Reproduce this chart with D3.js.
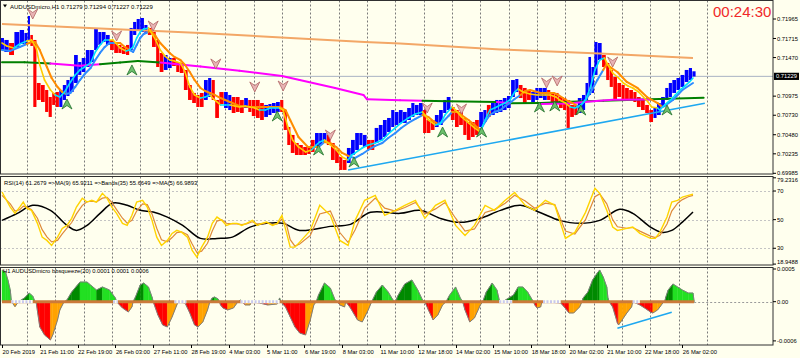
<!DOCTYPE html>
<html><head><meta charset="utf-8">
<script src="https://cdn.jsdelivr.net/npm/d3@7"></script>
<style>
body{margin:0;background:#ffffee}
svg{display:block}
text{font-family:"Liberation Sans",Arial,sans-serif}
</style></head>
<body><svg id="c" width="800" height="358"></svg>
<script>
// ---------------- DATA (prices in points, 1 point = 0.00001) ----------------
const timeLabels = ["20 Feb 2019","21 Feb 11:00","22 Feb 19:00","26 Feb 03:00","27 Feb 11:00","28 Feb 19:00","4 Mar 03:00","5 Mar 11:00","6 Mar 19:00","8 Mar 03:00","11 Mar 10:00","12 Mar 18:00","14 Mar 02:00","15 Mar 10:00","18 Mar 18:00","20 Mar 02:00","21 Mar 10:00","22 Mar 18:00","26 Mar 02:00"];
const priceTicks = [71965,71715,71470,70975,70730,70480,70235,69985];
const lastPrice = 71229;
const rsiTicks = [79.2316,70,50,30,18.9488];
const oscTicks = [0.0005,0,-0.0006];

const barIdx = [0,4,8,13,17,21,23,25,28,31, 35,38,41,44,47,50,53,56,59,63, 66,69,73,76,80,83,86,90,93,97,
 100,103,107,109,113,115,119,122,125,129, 132,135,139,142,146,149,152,156,159,163, 166,169,173,176,179,182,186,190,193,196,
 200,203,207,210,213,217,220,224,227,230, 234,237,240,243,246,250,253,257,260,263, 267,270,273,277,280,284,287,290,294,297,
 301,304,307,311,314,317,321,324,328,331, 334,338,341,345,348,351,355,358,361,365, 368,372,375,378,382,385,389,392,395,399,
 402,406,409,412,416,419,422,426,429,433, 436,439,443,446,450,453,456,460,463,466, 470,473,477,479,483,486,489,493,495,498,
 500,503,506,510,513,516,519,523,526,529, 533,536,539,543,546,550,553,556,560,563, 566,569,573,576,580,583,586];
const barHigh = [71721,71696,71657,71798,71824,71786,72004,71760,71696,71144, 71118,71054,70964,71016,71028,71054,71118,71182,71221,71503, 71413,71465,71567,71567,71837,71798,71798,71760,71696,71657,
 71632,71606,71632,71850,71927,71965,71978,71888,71850,71798, 71696,71529,71503,71465,71465,71413,71401,71311,71118,71016, 70990,71016,71182,71208,71182,70926,71028,71028,70990,70964,
 70964,70926,70951,70926,70926,70926,70887,70862,70874,70887, 70900,70926,70797,70579,70477,70374,70348,70323,70323,70413, 70502,70502,70502,70477,70374,70284,70194,70156,70310,70413,
 70502,70502,70477,70413,70413,70567,70605,70669,70695,70797, 70772,70797,70772,70823,70887,70862,70887,70797,70669,70669, 70733,70797,70926,70964,70836,70797,70772,70695,70643,70643,
 70669,70772,70797,70862,70887,70926,70926,70951,70977,71182, 71195,71118,71080,71054,71028,71080,71080,71080,71054,71028, 71016,70964,70951,70926,70862,70862,70951,70990,71144,71478,
 71349,71670,71657,71503,71401,71311,71221,71144,71118,71080, 71054,71028,70964,70926,70862,70797,70836,70887,70964,71080, 71144,71182,71208,71247,71311,71336,71294];
const barLow = [71567,71542,71503,71606,71644,71632,71696,71619,70836,70926, 70900,70772,70708,70862,70836,70836,70926,70977,71028,71144, 71247,71285,71349,71413,71567,71632,71670,71632,71567,71529,
 71529,71516,71503,71567,71760,71824,71798,71786,71760,71606, 71349,71285,71311,71336,71362,71285,71272,71054,70926,70887, 70836,70836,70926,70964,70926,70695,70874,70823,70797,70759,
 70772,70759,70823,70772,70720,70695,70669,70708,70733,70759, 70772,70772,70541,70348,70246,70220,70220,70220,70233,70259, 70323,70348,70374,70348,70156,70117,70028,70028,70117,70220,
 70284,70348,70323,70284,70284,70374,70413,70451,70515,70579, 70605,70631,70631,70669,70708,70733,70733,70502,70502,70541, 70579,70605,70759,70797,70669,70579,70605,70477,70413,70451,
 70477,70579,70643,70708,70733,70759,70772,70797,70823,70964, 71028,70951,70887,70926,70900,70926,70951,70926,70926,70887, 70887,70823,70797,70567,70708,70733,70759,70797,70926,70990,
 71016,71247,71439,71349,71182,71093,70926,70964,70926,70926, 70926,70900,70836,70797,70759,70643,70695,70733,70836,70926, 70964,71016,71054,71093,71157,71182,71227];
const barDir = ("BBRBBBBRRR"+"RRRRRBBBBB"+"BBBBBBBBRR"+"RRRBBBBBRR"+"RRBBRRRRRR"+"RRBBRRRBBR"+"RRBRRRRBBB"+"BRRRRRRRRR"+"BBBRRRRRBB"+"BBBRRBBBBB"+
 "BBBBBBBRRR"+"BBBBRRRRRR"+"RBBRBBBBBB"+"BRRRBBBBRR"+"RRRRRRBBBB"+"BBBRRRRRRR"+"RRRRRRBBBB"+"BBBBBBB").split("");

const fastIdx = [0,4,10,15,21,25,29,32,36,41, 45,49,53,58,62,66,70,75,79,83, 87,91,94,100,105,108,111,114,117,120, 124,125,130,134,138,142,146,151,155,159,
 163,168,172,176,180,185,189,193,197,201, 206,210,214,218,223,227,231,235,238,242, 246,251,257,262,266,269,273,278,283,288, 293,296,299,305,310,316,322,327,333,338,
 344,350,356,358,361,367,371,375,381,384, 389,395,400,405,409,413,417,422,426,430, 434,437,441,447,453,460,464,469,472,477, 481,485,489,494,498,502,506,510,512,517,
 522,526,530,534,539,543,547,550,555,557, 561,566,570,574,578,582,585];
const fastVal = [71657,71619,71593,71644,71683,71696,71593,71375,71182,71054, 70990,70964,71028,71157,71247,71311,71349,71401,71542,71632, 71696,71696,71696,71593,71555,71567,71606,71721,71798,71837,
 71850,71824,71696,71567,71490,71439,71426,71401,71285,71093, 70990,70951,70964,70990,70926,70862,70862,70862,70849,70836, 70849,70836,70823,70797,70797,70823,70823,70823,70797,70579,
 70413,70323,70259,70284,70348,70387,70413,70348,70284,70194, 70156,70220,70246,70310,70348,70374,70413,70490,70567,70631, 70695,70746,70772,70733,70669,70605,70618,70733,70836,70797,
 70708,70631,70567,70515,70669,70797,70823,70862,70887,70926, 71028,71067,71028,71003,70990,70990,70990,70964,70926,70887, 70836,70823,70849,70926,71080,71311,71439,71465,71401,71272,
 71208,71144,71105,71080,71028,70964,70900,70836,70823,70797, 70862,70926,70990,71054,71105,71157,71208];
const fastDir = ("udduuddddd"+"duuuuuuuuu"+"uuddduuuuu"+"uddddddddd"+"dduudduudd"+"dddduuuudd"+"dddduuuddd"+"duuuuuuuuu"+"uuuddduuud"+"dddduuuuuu"+
 "uudddddddd"+"duuuuuuudd"+"dddddddddu"+"uuuuuuu").split("");

const slowIdx = [0,7,15,21,25,28,32,38,42,47, 51,54,58,62,66,70,75,79,83,87, 91,96,100,104,108,111,114,117,120,124, 125,130,134,138,142,146,151,155,159,163,
 168,172,176,180,185,189,193,197,201,210, 218,227,235,240,244,251,259,268,273,278, 283,288,295,299,305,310,316,322,327,333, 338,344,350,356,361,365,369,373,378,381,
 386,389,395,400,405,409,413,417,422,426, 430,434,439,443,447,456,467,471,475,479, 483,487,489,494,498,504,509,512,516,521, 529,538,546,555,559,561,568,576,585];
const slowVal = [71567,71555,71606,71644,71670,71670,71567,71349,71208,71093, 71028,71003,71016,71093,71182,71259,71336,71439,71529,71606, 71657,71657,71657,71606,71567,71542,71632,71721,71773,71798,
 71824,71747,71657,71593,71529,71478,71439,71375,71285,71182, 71080,71041,71016,70990,70951,70926,70900,70874,70849,70836, 70836,70836,70836,70797,70669,70451,70323,70323,70387,70374,
 70323,70246,70194,70182,70233,70284,70336,70374,70438,70502, 70567,70631,70682,70733,70708,70656,70618,70643,70720,70772, 70772,70733,70669,70605,70541,70643,70733,70772,70797,70849,
 70887,70939,70990,71041,71054,71016,71016,70990,70951,70913, 70887,70849,70836,70926,71016,71182,71311,71388,71336,71285, 71157,71080,70964,70887,70836,70849,70926,71054,71144];
const slowDir = ("uuuudddddd"+"dduuuuuuuu"+"uuddduuuuu"+"dddddddddd"+"dddddddddd"+"ddddddddud"+"ddduuuuuuu"+"uuuuddduuu"+"ddddduuuuu"+"uuuddddddd"+
 "dduuuuuddd"+"ddddduuuu").split("");

const sandyIdx = [0,83,168,252,307,337,422,506,585];
const sandyVal = [71901,71843,71786,71715,71670,71651,71574,71523,71465];

const ma200Idx = [0,19,41,66,83,100,115,134,168,201,237,252,282,306,309,337,356,378,419,430,456,481,509,549,594];
const ma200Val = [71410,71410,71394,71366,71384,71407,71426,71407,71356,71302,71234,71182,71080,70990,70935,70923,70917,70909,70900,70883,70887,70904,70917,70935,70955];
const ma200Col = "gggmmgggmmmmmmmmmggmggggg".split("");
const magIdx = [456,478,498,517,549];
const magVal = [70874,70881,70906,70928,70932];

const trendIdx = [293,595];
const trendVal = [70028,70883];

const sellIdx = [26,97,128,181,214,238,278,360,389,461,470,517];
const sellVal = [72029,71747,71875,71388,71093,71105,70477,70823,70810,71144,71170,71413];
const buyIdx = [55,110,233,268,298,373,406,455,468,490,563];
const buyVal = [70874,71311,70720,70284,70130,70515,70515,70836,70849,70797,70797];

// RSI panel
const rsiIdx = [0,7,11,15,18,21,25,30,34,38, 42,47,51,55,59,63,68,72,76,80, 85,89,93,97,102,106,110,114,119,123, 127,131,135,140,144,148,152,157,161,165,
 169,174,178,182,186,190,195,199,203,207, 212,216,220,224,229,233,237,241,244,248, 252,261,269,278,286,293,299,307,316,324, 333,341,350,358,367,375,384,392,400,409,
 417,426,434,443,451,460,468,477,485,494, 502,506,512,517,521,529,534,540,549,553, 557,563,567,572,576,581,585];
const rsiMa5 = [69.3,58.8,54.4,58.8,62.3,57.9,56.5,47.4,37.8,35.5, 32.0,37.8,43.9,46.0,50.9,58.8,64.9,62.3,63.5,62.3, 68.4,64.9,58.8,54.4,47.4,46.0,53.0,62.3,63.5,58.8, 49.5,37.8,32.0,35.5,40.4,42.5,41.3,37.8,28.5,23.8,
 30.8,37.8,47.4,51.8,49.5,46.0,47.4,47.4,46.0,47.4, 49.5,46.0,47.4,48.3,46.0,47.4,53.0,40.4,30.8,30.8, 34.3,42.5,60.0,53.0,35.5,32.0,49.5,63.5,67.0,53.0, 56.5,60.0,63.5,50.9,60.0,63.5,46.0,39.0,46.0,60.0,
 56.5,63.5,69.0,60.0,56.5,63.5,60.0,36.9,41.1,55.1, 71.9,68.4,56.5,44.8,42.5,43.9,44.8,40.4,36.9,36.9, 41.3,51.8,62.3,63.5,65.8,67.0,67.7];
const rsiMa9 = [67,61,56,57,59.5,59,57,51,43,38, 34.5,35.5,40,44,48,54,60,62.5,63,62.5, 65,65.5,62,57,51,47.5,49.5,56,61,60.5, 54,44,36,34.5,37.5,41,41.5,39.5,33,27,
 28,33.5,42,49,50,47.5,47,47,46.5,47, 48.5,47,47,48,46.5,47,50.5,46,36,31.5, 33,39,54,56,41,34,43,58,65,58, 56,58.5,62,54,57.5,62,51,42,43.5,55,
 57,61.5,67,63,58,61.5,60.5,42,40,50, 66,68,61,50,45,44,44.5,42,38.5,37.5, 39,47,56,61.5,64,66,67];
const bandIdx = [0,13,26,41,55,63,72,83,94,106, 117,128,140,153,168,182,195,210,224,238, 252,278,295,312,337,354,371,388,405,422, 439,456,472,489,506,523,534,549,559,567, 576,585];
const bandVal = [49.5,54.4,60.0,56.5,46.0,42.5,46.0,54.4,61.6,60.0, 56.5,55.3,51.8,46.0,36.9,36.9,37.8,44.8,47.4,47.4, 42.5,45.3,46.7,55.1,54.4,56.5,50.9,48.1,50.9,56.5, 60.0,54.8,49.5,47.4,49.5,57.2,54.4,44.8,41.1,42.5, 48.3,55.3];

// squeeze histogram panel
const oscIdx = [0,3,5,7,8,11,14,19,23,26, 28,29,32,36,41,43,47,49,52,53, 55,59,66,72,75,80,85,91,96,97, 98,102,107,110,111,113,117,120,124,127,
 128,132,136,140,144,148,149,155,159,163, 166,170,174,176,178,180,183,184,185,187, 191,196,199,200,202,203,206,210,211,218, 225,233,234,235,236,240,244,248,252,257,
 261,264,266,268,273,278,282,284,286,290, 291,295,301,305,310,313,317,322,327,331, 333,335,341,347,352,356,358,361,365,369, 373,376,379,384,388,390,392,396,400,405,
 407,410,415,419,421,422,423,424,433,437, 441,445,449,450,451,453,456,457,458,473, 476,480,484,489,491,492,496,500,504,506, 509,512,513,514,517,521,522,525,529,533,
 534,540,544,549,551,555,557,560,561,562, 564,568,572,576,581,585,586];
const oscVal = [0.000485,0.000454,0.000332,0.000179,0,-0.000076,0,0.000057,0.000133,0.000087, 0,-0.00002,-0.000387,-0.000509,-0.000586,-0.000509,-0.00028,-0.000127,-0.00002,0,
 0.000026,0.000148,0.000301,0.000301,0.000255,0.000179,0.000225,0.000179,0.000057,0, -0.00002,-0.000096,-0.000157,-0.000081,0,0.000072,0.000255,0.000286,0.000225,0.000072,
 0,-0.000203,-0.000356,-0.000387,-0.000234,-0.00005,0,-0.00002,-0.000173,-0.000356, -0.000387,-0.00031,-0.000127,0,0.000057,0.000072,0.000041,0,-0.00005,-0.000096,
 -0.000127,-0.000096,-0.00002,0,0.000026,0,-0.00005,-0.00005,0,-0.00002, -0.00005,-0.000035,0,0.000057,0,-0.000081,-0.000234,-0.000387,-0.000479,-0.000509,
 -0.00028,-0.00005,0,0.000102,0.000286,0.000209,0.000026,0,-0.00005,-0.000081, 0,-0.000096,-0.00028,-0.00031,-0.000127,0,0.000148,0.000255,0.000148,0.000026,
 0,0.000087,0.000271,0.000332,0.000179,0.000026,0,-0.000127,-0.00028,-0.000203, -0.00005,0,0.000102,0.000225,0.000057,0,-0.000127,-0.00031,-0.000249,-0.00005,
 0,0.000148,0.000286,0.000179,0.000026,0,-0.00002,0,0.000102,0.000225, 0.000225,0.000148,0.000026,0,-0.00005,-0.000096,-0.000081,-0.000005,0,-0.00002,
 -0.000081,-0.000173,-0.000173,-0.000081,0,0.000057,0.000148,0.000332,0.000439,0.000485, 0.000378,0.000225,0.000057,0,-0.000081,-0.000326,-0.000356,-0.00028,-0.000173,-0.000081,
 0,-0.00005,-0.000096,-0.000157,-0.000173,-0.000127,-0.000081,-0.000005,0,0.000072, 0.000179,0.000271,0.000225,0.000179,0.000133,0.000133,0];
const oscCol = ("LLLLLOOGGL"+"LRRRROOOOO"+"GGGLLLGLLL"+"RRROOGGGLL"+"LRRROOORRR"+"ROOOGGLLRR"+"ROOOGGROOR"+"ROOGGRRRRR"+"OOOGGLLLRO"+"ORROOOGGLL"+
 "LGGGLLLRRO"+"OOGLLLRROO"+"OGGLLLOOGG"+"LLLLRROOOR"+"RROOOGGGGG"+"LLLLRRROOO"+"ORRRROOOOG"+"GGLLLLL").split("");
const squeezeRanges = [[8,26],[94,98],[146,156],[202,235],[421,432],[458,473],[534,540]];
const oscTrendIdx = [521,567];
const oscTrendVal = [-0.000407,-0.000162];

// ---------------- DRAWING ----------------
const BG = "#ffffee", R = 773;
const svg = d3.select("#c");
svg.append("rect").attr("width",800).attr("height",358).attr("fill",BG);

const x = d3.scaleLinear().domain([0,654]).range([2, 2+654*1.1812]);
const yP = d3.scaleLinear().domain([69985,71965]).range([173.3,19]);
const yR = d3.scaleLinear().domain([18.9488,79.2316]).range([264.1,177.8]);
const yO = d3.scaleLinear().domain([-0.0006,0.0005]).range([340.9,269]);

const panels = [{t:0.5,b:174},{t:176.5,b:265},{t:267.5,b:345}];
const defs = svg.append("defs");
panels.forEach((p,i)=>defs.append("clipPath").attr("id","cp"+i).append("rect")
  .attr("x",0.5).attr("y",p.t).attr("width",R-0.5).attr("height",p.b-p.t));

// vertical grid (day boundaries)
const gridBars = d3.range(25).map(k=>21+24*k);
panels.forEach((p,pi)=>{
  svg.append("g").attr("clip-path","url(#cp"+pi+")").selectAll("line").data(gridBars).join("line")
    .attr("x1",d=>Math.round(x(d))+0.5).attr("x2",d=>Math.round(x(d))+0.5)
    .attr("y1",p.t).attr("y2",p.b).attr("stroke","#7a7a7a").attr("stroke-dasharray","2,2").attr("stroke-width",1);
});

// ---------- main panel ----------
const gM = svg.append("g").attr("clip-path","url(#cp0)");
gM.append("line").attr("x1",0).attr("x2",R).attr("y1",yP(lastPrice)).attr("y2",yP(lastPrice))
  .attr("stroke","#a9b3c3").attr("stroke-width",1);

const half = (k)=>{
  const l = k>0 ? (x(barIdx[k])-x(barIdx[k-1]))/2 : 1.8;
  const r = k<barIdx.length-1 ? (x(barIdx[k+1])-x(barIdx[k]))/2 : 1.8;
  return [l,r];
};
gM.selectAll("rect.bar").data(barIdx).join("rect").attr("class","bar")
  .attr("x",(d,i)=>x(d)-half(i)[0]).attr("width",(d,i)=>half(i)[0]+half(i)[1]-0.4)
  .attr("y",(d,i)=>yP(barHigh[i])).attr("height",(d,i)=>Math.max(1,yP(barLow[i])-yP(barHigh[i])))
  .attr("fill",(d,i)=>barDir[i]==="B"?"#0000ff":"#ff0000");

function segLine(g, idx, val, yS, colorOf, width){
  for(let k=1;k<idx.length;k++){
    g.append("line").attr("x1",x(idx[k-1])).attr("y1",yS(val[k-1]))
      .attr("x2",x(idx[k])).attr("y2",yS(val[k]))
      .attr("stroke",colorOf(k)).attr("stroke-width",width).attr("stroke-linecap","round");
  }
}
const lineGen = (idx,yS)=>d3.line().x((d,i)=>x(idx[i])).y(d=>yS(d));

gM.append("path").attr("d",lineGen(sandyIdx,yP)(sandyVal)).attr("fill","none").attr("stroke","#f3a766").attr("stroke-width",2);
segLine(gM, ma200Idx, ma200Val, yP, k=>ma200Col[k]==="g"?"#008000":"#ff00ff", 2);
gM.append("path").attr("d",lineGen(magIdx,yP)(magVal)).attr("fill","none").attr("stroke","#ff00ff").attr("stroke-width",2);

segLine(gM, slowIdx, slowVal, yP, k=>slowDir[k]==="u"?"#2f8cff":"#ff8c00", 2);
segLine(gM, fastIdx, fastVal, yP, k=>fastDir[k]==="u"?"#00e0ff":"#ffcc00", 1.6);

gM.append("path").attr("d",lineGen(trendIdx,yP)(trendVal)).attr("fill","none").attr("stroke","#1ea8f0").attr("stroke-width",1.6);

const sellPath = "M-5,-5 L0,-1.5 L5,-5 L0,5 Z";
const buyPath = "M-5,5 L0,1.5 L5,5 L0,-5 Z";
gM.selectAll("path.sell").data(sellIdx).join("path").attr("class","sell")
  .attr("d",sellPath).attr("transform",(d,i)=>`translate(${x(d)},${yP(sellVal[i])})`)
  .attr("fill","#e8b4b4").attr("stroke","#b06464").attr("stroke-width",0.8);
gM.selectAll("path.buy").data(buyIdx).join("path").attr("class","buy")
  .attr("d",buyPath).attr("transform",(d,i)=>`translate(${x(d)},${yP(buyVal[i])})`)
  .attr("fill","#6cbf6c").attr("stroke","#1f6e2a").attr("stroke-width",0.8);

// ---------- RSI panel ----------
const gR = svg.append("g").attr("clip-path","url(#cp1)");
[70,50,30].forEach(v=>gR.append("line").attr("x1",0).attr("x2",R).attr("y1",Math.round(yR(v))+0.5).attr("y2",Math.round(yR(v))+0.5)
  .attr("stroke","#c4c4c4").attr("stroke-dasharray","2,2"));
gR.append("path").attr("d",lineGen(bandIdx,yR).curve(d3.curveCatmullRom)(bandVal)).attr("fill","none").attr("stroke","#000").attr("stroke-width",1.5);
gR.append("path").attr("d",lineGen(rsiIdx,yR)(rsiMa9)).attr("fill","none").attr("stroke","#de8a3a").attr("stroke-width",1.2);
gR.append("path").attr("d",lineGen(rsiIdx,yR)(rsiMa5)).attr("fill","none").attr("stroke","#ffd400").attr("stroke-width",1.4);

// ---------- squeeze panel ----------
const gO = svg.append("g").attr("clip-path","url(#cp2)");
const oscColor = {L:"#22e022",G:"#008a00",R:"#ff0000",O:"#ffa200"};
const y0 = yO(0);
for(let k=1;k<oscIdx.length;k++){
  const c = oscVal[k]===0 ? oscCol[k-1] : oscCol[k];
  const x1=x(oscIdx[k-1]), x2=x(oscIdx[k]);
  gO.append("path").attr("d",`M${x1},${y0}L${x1},${yO(oscVal[k-1])}L${x2},${yO(oscVal[k])}L${x2},${y0}Z`)
    .attr("fill",oscColor[c]||"#888").attr("stroke",oscColor[c]||"#888").attr("stroke-width",0.4);
}
gO.append("path").attr("d",lineGen(oscIdx,yO)(oscVal)).attr("fill","none").attr("stroke","#7d7d7d").attr("stroke-width",1);
// zero line
gO.append("line").attr("x1",x(0)).attr("x2",x(586)).attr("y1",y0).attr("y2",y0).attr("stroke","#cc7a3a").attr("stroke-width",3);
squeezeRanges.forEach(r=>{
  gO.append("line").attr("x1",x(r[0])).attr("x2",x(r[1])).attr("y1",y0).attr("y2",y0).attr("stroke",BG).attr("stroke-width",3.2);
  gO.append("line").attr("x1",x(r[0])).attr("x2",x(r[1])).attr("y1",y0).attr("y2",y0).attr("stroke","#c9c9ee").attr("stroke-width",3).attr("stroke-dasharray","2,1.5");
});
gO.append("line").attr("x1",x(586)).attr("x2",R).attr("y1",Math.round(y0)+0.5).attr("y2",Math.round(y0)+0.5).attr("stroke","#9a9a9a").attr("stroke-dasharray","2,2");
gO.append("path").attr("d",lineGen(oscTrendIdx,yO)(oscTrendVal)).attr("fill","none").attr("stroke","#1ea8f0").attr("stroke-width",1.6);

// ---------- frames ----------
panels.forEach(p=>svg.append("rect").attr("x",0.5).attr("y",p.t).attr("width",R-0.5).attr("height",p.b-p.t)
  .attr("fill","none").attr("stroke","#303030").attr("stroke-width",1));

// ---------- axes ----------
const fs = 5.8;
const ax = svg.append("g").attr("font-size",fs).attr("fill","#000");
priceTicks.forEach(v=>{
  const yy=yP(v);
  ax.append("line").attr("x1",R).attr("x2",R+3).attr("y1",yy).attr("y2",yy).attr("stroke","#000");
  ax.append("text").attr("x",R+4).attr("y",yy).attr("dy","0.35em").text((v/1e5).toFixed(5));
});
ax.append("rect").attr("x",R+1).attr("y",yP(lastPrice)-3.6).attr("width",25).attr("height",7.2).attr("fill","#000");
ax.append("text").attr("x",R+3).attr("y",yP(lastPrice)).attr("dy","0.35em").attr("fill","#fff").text((lastPrice/1e5).toFixed(5));
rsiTicks.forEach((v,i)=>{
  const yy = i===0? yR(v)+2.5 : (i===rsiTicks.length-1? yR(v)-2.5 : yR(v));
  ax.append("line").attr("x1",R).attr("x2",R+3).attr("y1",yR(v)).attr("y2",yR(v)).attr("stroke","#000");
  ax.append("text").attr("x",R+4).attr("y",yy).attr("dy","0.35em").text(Number.isInteger(v)?String(v):v.toFixed(4));
});
oscTicks.forEach(v=>{
  ax.append("line").attr("x1",R).attr("x2",R+3).attr("y1",yO(v)).attr("y2",yO(v)).attr("stroke","#000");
  ax.append("text").attr("x",R+4).attr("y",yO(v)).attr("dy","0.35em").text(v===0?"0.00":v.toFixed(4));
});
timeLabels.forEach((t,k)=>{
  const xx = x(32*k);
  ax.append("line").attr("x1",Math.round(xx)+0.5).attr("x2",Math.round(xx)+0.5).attr("y1",345).attr("y2",348).attr("stroke","#000");
  ax.append("text").attr("x",xx+0.5).attr("y",354).text(t);
});

// ---------- titles ----------
svg.append("path").attr("d","M3,4.5 L7,4.5 L5,7.5 Z").attr("fill","#000");
svg.append("text").attr("x",10).attr("y",8.5).attr("font-size",6).text("AUDUSDmicro,H1");
svg.append("text").attr("x",61).attr("y",8.5).attr("font-size",6).text("0.71279 0.71294 0.71227 0.71229");
svg.append("text").attr("x",4).attr("y",184.5).attr("font-size",5.8).text("RSI(14) 61.2679  =>MA(9) 65.9211  =>Bands(35) 55.6649  =>MA(5) 66.9893");
svg.append("text").attr("x",3).attr("y",272.5).attr("font-size",5.8).text("H1 AUDUSDmicro bbsqueeze(20) 0.0001 0.0001 0.0006");
svg.append("text").attr("x",713).attr("y",17).attr("font-size",15).attr("fill","#f02828").text("00:24:30");
</script></body></html>
